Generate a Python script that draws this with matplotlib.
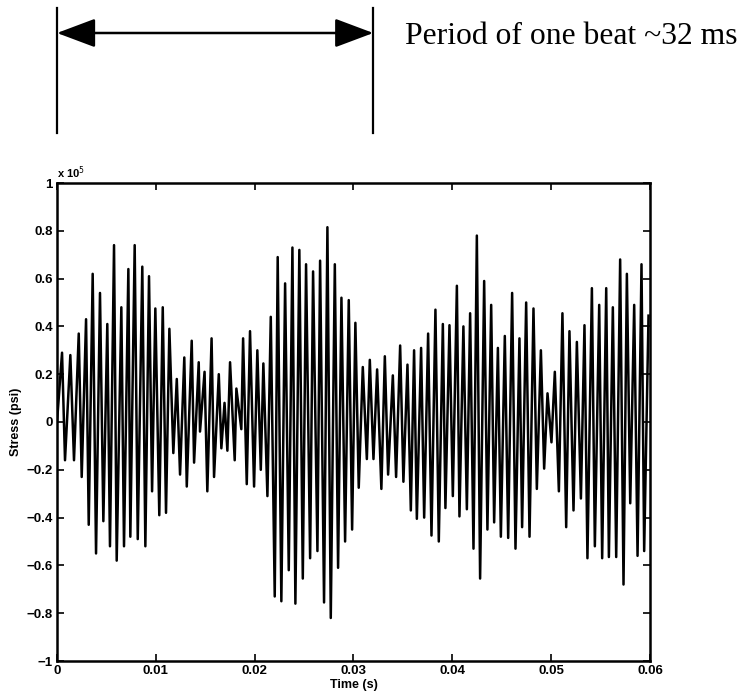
import numpy as np
import matplotlib
matplotlib.use("Agg")
import matplotlib.pyplot as plt
import matplotlib.transforms as mtransforms

# positive peaks of the stress trace: time (ms), stress (x 1e5 psi)
peak_t = [0.51, 1.35, 2.20, 2.94, 3.61, 4.35, 5.09, 5.77, 6.51, 7.22,
          7.86, 8.63, 9.31, 9.95, 10.70, 11.37, 12.12, 12.88, 13.63, 14.34,
          14.93, 15.64, 16.37, 16.95, 17.51, 18.15, 18.83, 19.53, 20.27, 20.88,
          21.63, 22.33, 23.08, 23.82, 24.52, 25.20, 25.91, 26.62, 27.36, 28.11,
          28.78, 29.52, 30.19, 30.94, 31.65, 32.39, 33.17, 33.98, 34.72, 35.46,
          36.13, 36.84, 37.55, 38.29, 39.04, 39.71, 40.46, 41.12, 41.80, 42.48,
          43.22, 43.93, 44.61, 45.31, 46.05, 46.79, 47.47, 48.21, 48.96, 49.63,
          50.37, 51.14, 51.85, 52.60, 53.37, 54.12, 54.86, 55.57, 56.24, 56.98,
          57.66, 58.40, 59.14, 59.85]
peak_v = [0.29, 0.28, 0.37, 0.43, 0.62, 0.54, 0.41, 0.74, 0.48, 0.64,
          0.74, 0.65, 0.61, 0.475, 0.48, 0.39, 0.18, 0.27, 0.34, 0.25,
          0.21, 0.35, 0.20, 0.08, 0.25, 0.14, 0.35, 0.38, 0.30, 0.245,
          0.44, 0.69, 0.58, 0.73, 0.72, 0.66, 0.63, 0.675, 0.815, 0.66,
          0.52, 0.51, 0.415, 0.23, 0.26, 0.22, 0.275, 0.195, 0.32, 0.24,
          0.30, 0.31, 0.37, 0.47, 0.41, 0.405, 0.57, 0.40, 0.455, 0.78,
          0.59, 0.49, 0.31, 0.36, 0.54, 0.35, 0.50, 0.475, 0.30, 0.12,
          0.21, 0.455, 0.38, 0.335, 0.405, 0.56, 0.49, 0.56, 0.48, 0.68,
          0.62, 0.49, 0.66, 0.445]

# negative peaks (troughs)
trough_t = [0.81, 1.72, 2.50, 3.21, 3.95, 4.69, 5.36, 6.04, 6.78, 7.42,
            8.17, 8.94, 9.62, 10.35, 11.03, 11.77, 12.45, 13.13, 13.87, 14.47,
            15.21, 15.89, 16.63, 17.24, 17.98, 18.65, 19.20, 19.94, 20.62, 21.29,
            22.03, 22.70, 23.45, 24.12, 24.87, 25.61, 26.35, 27.02, 27.70, 28.44,
            29.15, 29.86, 30.53, 31.35, 32.02, 32.82, 33.50, 34.31, 35.05, 35.80,
            36.41, 37.15, 37.89, 38.63, 39.30, 40.05, 40.72, 41.47, 42.14, 42.81,
            43.55, 44.23, 44.91, 45.65, 46.39, 47.06, 47.81, 48.55, 49.29, 50.03,
            50.78, 51.52, 52.26, 53.01, 53.67, 54.42, 55.16, 55.84, 56.58, 57.32,
            58.00, 58.74, 59.41]
trough_v = [-0.16, -0.16, -0.23, -0.43, -0.55, -0.415, -0.52, -0.58, -0.52, -0.48,
            -0.49, -0.52, -0.29, -0.39, -0.38, -0.13, -0.22, -0.27, -0.17, -0.04,
            -0.29, -0.23, -0.11, -0.12, -0.16, -0.03, -0.26, -0.27, -0.20, -0.31,
            -0.73, -0.75, -0.62, -0.76, -0.655, -0.57, -0.54, -0.755, -0.82, -0.61,
            -0.50, -0.45, -0.275, -0.155, -0.155, -0.28, -0.22, -0.23, -0.25, -0.37,
            -0.405, -0.40, -0.475, -0.50, -0.36, -0.31, -0.395, -0.365, -0.53, -0.655,
            -0.45, -0.42, -0.48, -0.485, -0.53, -0.44, -0.48, -0.28, -0.195, -0.085,
            -0.29, -0.44, -0.37, -0.32, -0.57, -0.52, -0.57, -0.565, -0.565, -0.68,
            -0.34, -0.56, -0.54]

x_ticks = [0, 0.01, 0.02, 0.03, 0.04, 0.05, 0.06]
x_labels = ['0', '0.01', '0.02', '0.03', '0.04', '0.05', '0.06']
y_ticks = [-1, -0.8, -0.6, -0.4, -0.2, 0, 0.2, 0.4, 0.6, 0.8, 1]
y_labels = ['\u22121', '\u22120.8', '\u22120.6', '\u22120.4', '\u22120.2', '0',
            '0.2', '0.4', '0.6', '0.8', '1']

beat_start = 0.0
beat_end = 0.032

t = np.concatenate([[0.0], peak_t, trough_t]) / 1000.0
v = np.concatenate([[0.0], peak_v, trough_v])
order = np.argsort(t)
t, v = t[order], v[order]

plt.rcParams['font.family'] = ['Liberation Sans', 'DejaVu Sans']

fig = plt.figure(figsize=(7.43, 6.96), dpi=100)
ax = fig.add_axes([57 / 743, 1 - 661 / 696, (650 - 57) / 743, (661 - 183) / 696])

ax.plot(t, v, color='black', lw=1.8)
ax.set_xlim(0, 0.06)
ax.set_ylim(-1, 1)
ax.set_xticks(x_ticks)
ax.set_xticklabels(x_labels)
ax.set_yticks(y_ticks)
ax.set_yticklabels(y_labels)
ax.tick_params(direction='in', top=True, right=True, length=5, width=1.2,
               labelsize=9.5, pad=3)
for lab in ax.get_xticklabels() + ax.get_yticklabels():
    lab.set_fontweight('bold')
for s in ax.spines.values():
    s.set_linewidth(1.8)

ax.set_xlabel('Time (s)', fontsize=9, fontweight='bold', labelpad=1)
ax.set_ylabel('Stress (psi)', fontsize=9, fontweight='bold', labelpad=3)
ax.text(0.0, 1.004, r'x 10$^{5}$', transform=ax.transAxes, fontsize=8,
        fontweight='bold', ha='left', va='bottom')

# beat period marker above the axes
trans = mtransforms.blended_transform_factory(ax.transData, fig.transFigure)
for xb in [beat_start, beat_end]:
    fig.add_artist(plt.Line2D([xb, xb], [1 - 8 / 696, 1 - 133 / 696],
                              transform=trans, color='black', lw=1.6))
ax.annotate('', xy=(beat_end, 1 - 33 / 696), xytext=(beat_start, 1 - 33 / 696),
            xycoords=trans, textcoords=trans, annotation_clip=False,
            arrowprops=dict(arrowstyle='<|-|>,head_length=1.2,head_width=0.45',
                            color='black', lw=1.8, shrinkA=0, shrinkB=0,
                            mutation_scale=20))
fig.text(405 / 743, 1 - 36 / 696, 'Period of one beat ~32 ms',
         fontsize=22.8, family='Liberation Serif', ha='left', va='center')

fig.savefig('out.png', dpi=100)
